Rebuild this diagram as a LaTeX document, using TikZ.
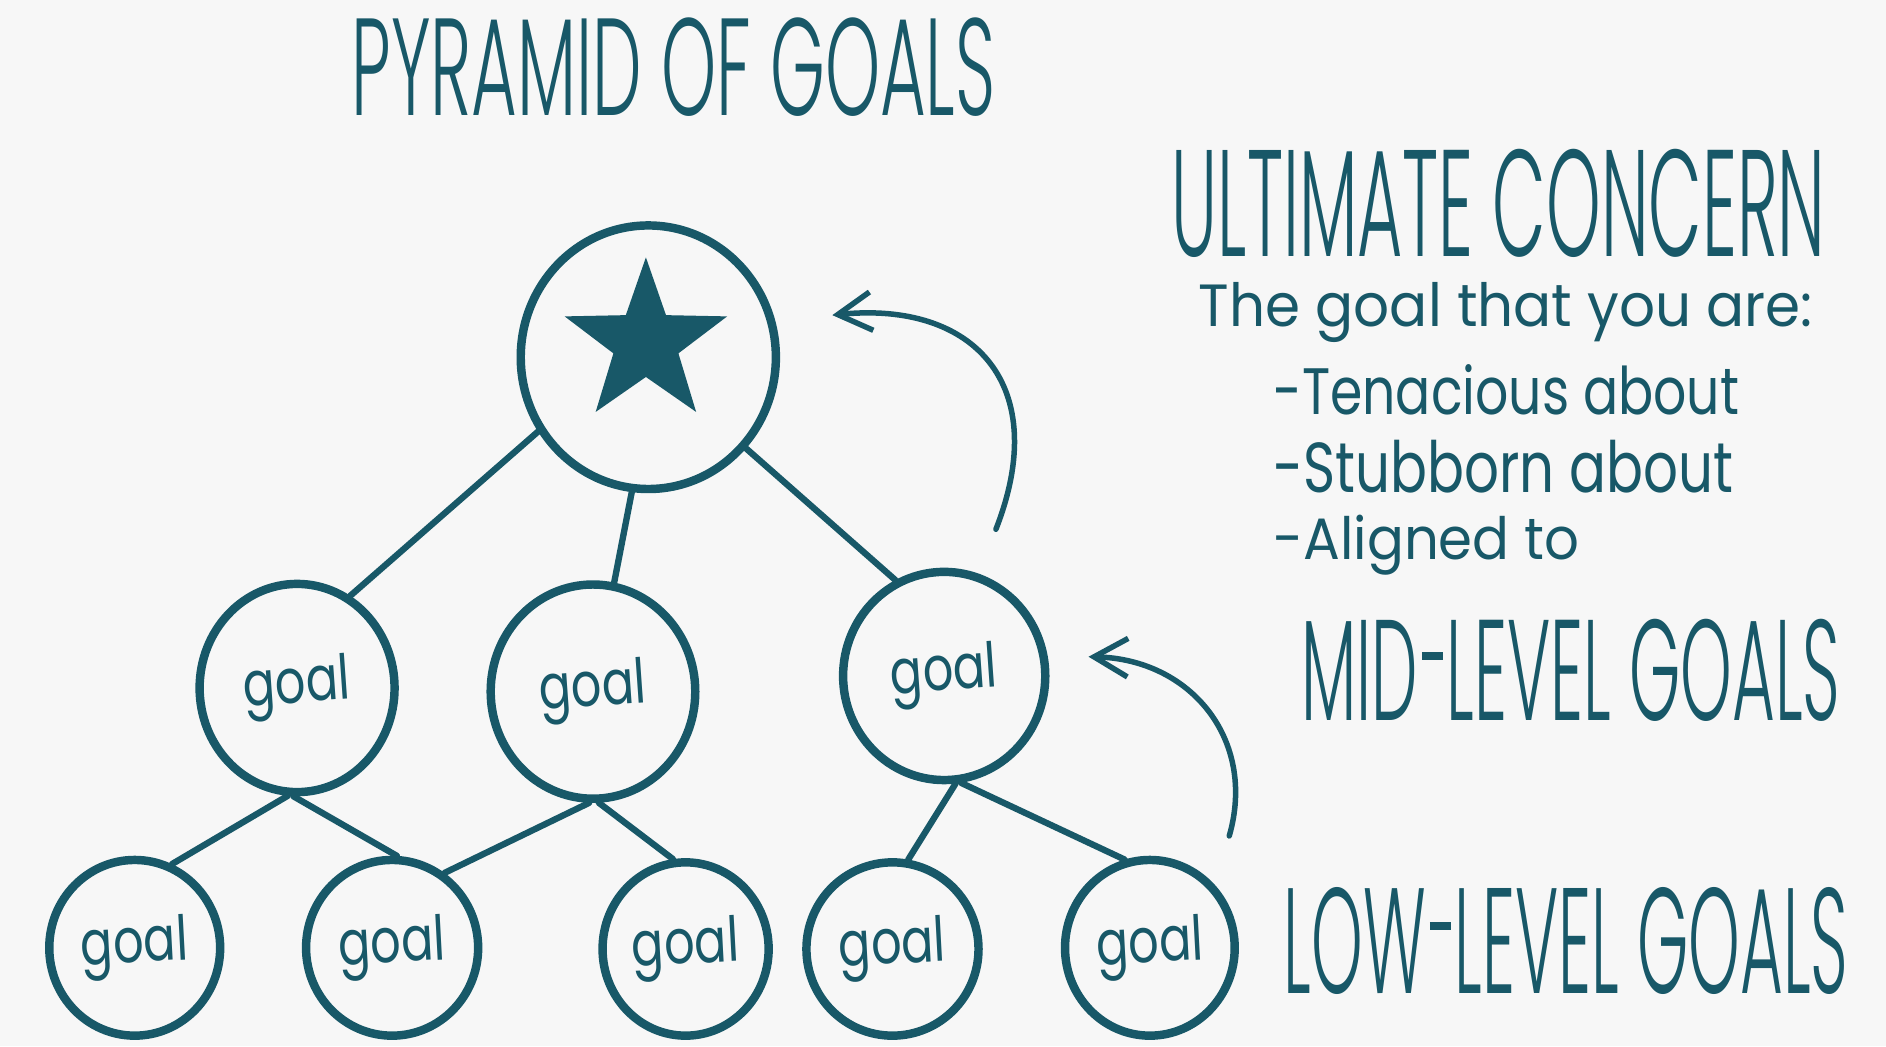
\documentclass[tikz,border=0pt]{standalone}
\usepackage{fontspec}
\setmainfont{Poppins}
\newfontfamily\capsfont{Poppins Light}
\usetikzlibrary{shapes.geometric,arrows.meta}
\definecolor{ink}{HTML}{185868}
\definecolor{paper}{HTML}{F7F7F7}
\newcommand{\gfit}[3]{\resizebox*{#1cm}{#2cm}{#3}}
\newcommand{\goaltxt}{\gfit{0.89}{0.52}{goal}}
\newcommand{\hdash}{\hspace{0.06em}\rule[0.42em]{0.32em}{0.055em}\hspace{0.06em}}
\tikzset{
  goalnode/.style={ellipse, draw=ink, line width=2pt, inner sep=0pt, text=ink},
  link/.style={draw=ink, line width=1.5pt, line cap=round},
  backarrow/.style={draw=ink, line width=1.3pt, line cap=round,
    -{Straight Barb[length=2.8mm,width=3.2mm,line width=1.3pt]}},
  lbl/.style={text=ink, inner sep=0pt, anchor=center},
}
\begin{document}
\begin{tikzpicture}[x=0.01cm,y=-0.01cm]
\fill[paper] (0,0) rectangle (1568,870);
\useasboundingbox (0,0) rectangle (1568,870);

% title
\node[lbl] (title) at (560,56) {\gfit{5.35}{0.82}{\capsfont PYRAMID OF GOALS}};

% nodes
\node[goalnode, minimum width=2.12cm, minimum height=2.19cm] (top) at (539,297) {};
\node[star, star points=5, star point ratio=2.5, fill=ink, minimum size=1.42cm, inner sep=0pt] (star) at (537,285) {};

\node[goalnode, minimum width=1.62cm, minimum height=1.73cm] (ml) at (247,572) {\rotatebox{4}{\goaltxt}};
\node[goalnode, minimum width=1.70cm, minimum height=1.78cm] (mm) at (493,575) {\rotatebox{4}{\goaltxt}};
\node[goalnode, minimum width=1.68cm, minimum height=1.73cm] (mr) at (785,562) {\rotatebox{4}{\goaltxt}};

\node[goalnode, minimum width=1.42cm, minimum height=1.46cm] (l1) at (112,788) {\rotatebox{3}{\goaltxt}};
\node[goalnode, minimum width=1.43cm, minimum height=1.46cm] (l2) at (326,788) {\rotatebox{3}{\goaltxt}};
\node[goalnode, minimum width=1.38cm, minimum height=1.44cm] (l3) at (570,789) {\rotatebox{3}{\goaltxt}};
\node[goalnode, minimum width=1.43cm, minimum height=1.44cm] (l4) at (742,789) {\rotatebox{3}{\goaltxt}};
\node[goalnode, minimum width=1.41cm, minimum height=1.46cm] (l5) at (956,788) {\rotatebox{3}{\goaltxt}};

% connectors
\draw[link] (top.214) -- (ml.60);
\draw[link] (top.263) -- (mm.79);
\draw[link] (top.317) -- (mr.117);
\draw[link] (ml.265) -- (l1.66);
\draw[link] (ml.268) -- (l2.87);
\draw[link] (mm.268) -- (l2.55);
\draw[link] (mm.273) -- (l3.98);
\draw[link] (mr.276) -- (l4.80);
\draw[link] (mr.279) -- (l5.106);

% curved arrows
\coordinate (a1s) at (828,440);
\coordinate (a1e) at (692,262);
\draw[backarrow] (a1s) .. controls (875,320) and (810,250) .. (a1e);
\coordinate (a2s) at (1022,695);
\coordinate (a2e) at (905,546);
\draw[backarrow] (a2s) .. controls (1045,615) and (990,548) .. (a2e);

% right text
\node[lbl] (uc) at (1246,169) {\gfit{5.43}{0.90}{\capsfont ULTIMATE CONCERN}};
\node[lbl] (sub) at (1252,260) {\gfit{5.10}{0.50}{The goal that you are:}};
\node[lbl, anchor=west] (b1) at (1058,324) {\gfit{3.87}{0.42}{-Tenacious about}};
\node[lbl, anchor=west] (b2) at (1058,388) {\gfit{3.82}{0.44}{-Stubborn about}};
\node[lbl, anchor=west] (b3) at (1058,453) {\gfit{2.54}{0.50}{-Aligned to}};
\node[lbl] (mid) at (1306,557) {\gfit{4.48}{0.85}{\capsfont MID\hdash LEVEL GOALS}};
\node[lbl] (low) at (1302,782) {\gfit{4.69}{0.89}{\capsfont LOW\hdash LEVEL GOALS}};
\end{tikzpicture}
\end{document}
